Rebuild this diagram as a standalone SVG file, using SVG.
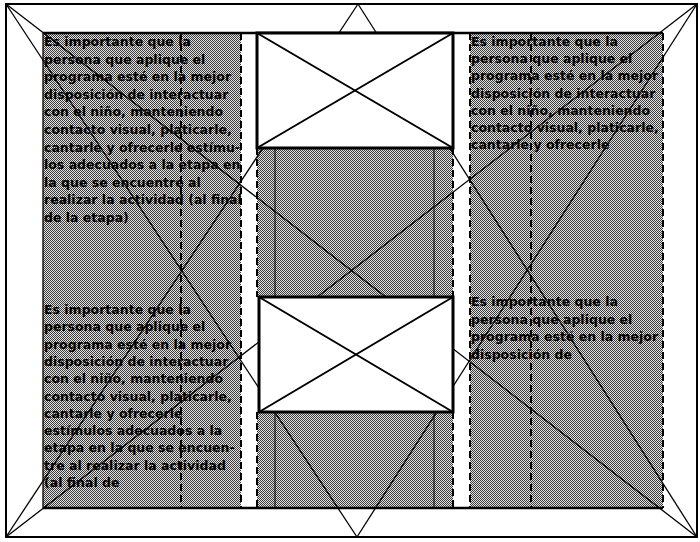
<svg xmlns="http://www.w3.org/2000/svg" width="700" height="542" viewBox="0 0 700 542">
<defs>
<pattern id="dither" width="2" height="2" patternUnits="userSpaceOnUse">
<rect width="2" height="2" fill="#e4e4e4"/>
<rect width="1" height="1" fill="#3a3a3a"/>
<rect x="1" y="1" width="1" height="1" fill="#3a3a3a"/>
</pattern>
<style>
.shade{fill:url(#dither)}
.dash{stroke:#000;stroke-width:2;stroke-dasharray:7 4;fill:none}
.solid{stroke:#000;stroke-width:2.5;fill:none}
.thin{stroke:#000;stroke-width:1.3;fill:none}
.vthin{stroke:#000;stroke-width:1;fill:none}
.box{fill:#fff;stroke:#000;stroke-width:3}
.x{stroke:#000;stroke-width:2}
.t{font-family:"DejaVu Sans",sans-serif;font-weight:bold;font-size:12.5px;fill:#000}
</style>
</defs>
<rect x="0" y="0" width="700" height="542" fill="#fff"/>
<g id="frame">
<rect x="6" y="4" width="691" height="533" fill="#fff" stroke="#000" stroke-width="2"/>
</g>
<g id="columns">
<rect class="shade" x="43" y="33" width="198" height="475"/>
<rect class="shade" x="257" y="148" width="196" height="149"/>
<rect class="shade" x="257" y="412" width="196" height="96"/>
<rect class="shade" x="470" y="33" width="193" height="475"/>
<line class="solid" x1="43" y1="33" x2="663" y2="33"/>
<line class="solid" x1="43" y1="508" x2="663" y2="508"/>
<line class="thin" x1="43" y1="33" x2="43" y2="508"/>
<line class="dash" x1="241" y1="33" x2="241" y2="508"/>
<line class="dash" x1="257" y1="148" x2="257" y2="297"/>
<line class="dash" x1="257" y1="412" x2="257" y2="508"/>
<line class="dash" x1="453" y1="148" x2="453" y2="297"/>
<line class="dash" x1="453" y1="412" x2="453" y2="508"/>
<line class="dash" x1="470" y1="33" x2="470" y2="508"/>
<line class="dash" x1="663" y1="33" x2="663" y2="508"/>
<line class="dash" x1="181" y1="33" x2="181" y2="508"/>
<line class="dash" x1="531" y1="33" x2="531" y2="508"/>
<line class="vthin" x1="275" y1="148" x2="275" y2="297"/>
<line class="vthin" x1="275" y1="412" x2="275" y2="508"/>
<line class="vthin" x1="434" y1="148" x2="434" y2="297"/>
<line class="vthin" x1="434" y1="412" x2="434" y2="508"/>
</g>
<g id="connectors">
<line class="thin" x1="6" y1="4" x2="697" y2="537"/>
<line class="thin" x1="697" y1="4" x2="6" y2="537"/>
<line class="thin" x1="6" y1="4" x2="357" y2="537"/>
<line class="thin" x1="697" y1="4" x2="357" y2="537"/>
<line class="thin" x1="6" y1="537" x2="358" y2="4"/>
<line class="thin" x1="697" y1="537" x2="358" y2="4"/>
</g>
<g id="box1">
<rect class="box" x="257" y="33" width="196" height="115"/>
<line class="x" x1="257" y1="33" x2="453" y2="148"/>
<line class="x" x1="453" y1="33" x2="257" y2="148"/>
</g>
<g id="box2">
<rect class="box" x="259" y="297" width="194" height="115"/>
<line class="x" x1="259" y1="297" x2="453" y2="412"/>
<line class="x" x1="453" y1="297" x2="259" y2="412"/>
</g>
<g id="text-left-top">
<text class="t" x="44" y="46">
<tspan x="44" y="46">Es importante que la</tspan>
<tspan x="44" y="63.6">persona que aplique el</tspan>
<tspan x="44" y="81.2">programa esté en la mejor</tspan>
<tspan x="44" y="98.8">disposición de interactuar</tspan>
<tspan x="44" y="116.4">con el niño, manteniendo</tspan>
<tspan x="44" y="134">contacto visual, platicarle,</tspan>
<tspan x="44" y="151.6">cantarle y ofrecerle estímu-</tspan>
<tspan x="44" y="169.2">los adecuados a la etapa en</tspan>
<tspan x="44" y="186.8">la que se encuentre al</tspan>
<tspan x="44" y="204.4">realizar la actividad (al final</tspan>
<tspan x="44" y="222">de la etapa)</tspan>
</text>
</g>
<g id="text-left-bottom">
<text class="t" x="44" y="314">
<tspan x="44" y="314">Es importante que la</tspan>
<tspan x="44" y="331.3">persona que aplique el</tspan>
<tspan x="44" y="348.6">programa esté en la mejor</tspan>
<tspan x="44" y="365.9">disposición de interactuar</tspan>
<tspan x="44" y="383.2">con el niño, manteniendo</tspan>
<tspan x="44" y="400.5">contacto visual, platicarle,</tspan>
<tspan x="44" y="417.8">cantarle y ofrecerle</tspan>
<tspan x="44" y="435.1">estímulos adecuados a la</tspan>
<tspan x="44" y="452.4">etapa en la que se encuen-</tspan>
<tspan x="44" y="469.7">tre al realizar la actividad</tspan>
<tspan x="44" y="487">(al final de</tspan>
</text>
</g>
<g id="text-right-top">
<text class="t" x="471" y="46">
<tspan x="471" y="46">Es importante que la</tspan>
<tspan x="471" y="63.2">persona que aplique el</tspan>
<tspan x="471" y="80.4">programa esté en la mejor</tspan>
<tspan x="471" y="97.6">disposición de interactuar</tspan>
<tspan x="471" y="114.8">con el niño, manteniendo</tspan>
<tspan x="471" y="132">contacto visual, platicarle,</tspan>
<tspan x="471" y="149.2">cantarle y ofrecerle</tspan>
</text>
</g>
<g id="text-right-bottom">
<text class="t" x="471" y="306">
<tspan x="471" y="306">Es importante que la</tspan>
<tspan x="471" y="323.7">persona que aplique el</tspan>
<tspan x="471" y="341.4">programa esté en la mejor</tspan>
<tspan x="471" y="359.1">disposición de</tspan>
</text>
</g>
</svg>
